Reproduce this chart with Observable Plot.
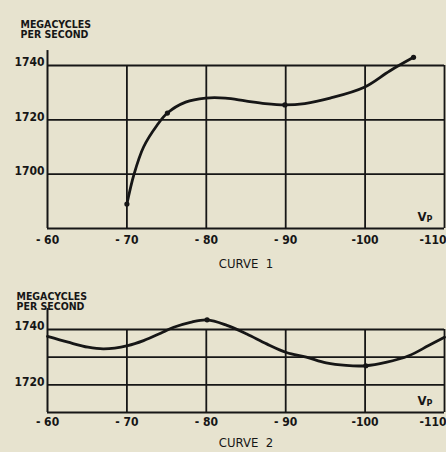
<!DOCTYPE html>
<html><head><meta charset="utf-8">
<script src="https://cdn.jsdelivr.net/npm/d3@7"></script>
<script src="https://cdn.jsdelivr.net/npm/@observablehq/plot@0.6"></script>
<style>
html,body{margin:0;padding:0;background:#e7e3cf;}
#chart{width:446px;height:452px;overflow:hidden;background:#e7e3cf;}
#chart svg{display:block;background:transparent;}
</style></head><body><div id="chart"></div>
<script>
// Shared x axis (plate voltage Vp)
const xTicks = [-60, -70, -80, -90, -100, -110];
const xTickLabels = ["- 60", "- 70", "- 80", "- 90", "-100", "-110"];

// Curve 1
const curve1X = [-70, -70.9, -72.1, -73.8, -75.1, -77.4, -79.9, -82.4, -84.9, -87.4, -89.9, -92.4, -95.6, -99.9, -103.1, -106.1];
const curve1Y = [1689, 1700, 1710, 1718, 1722.5, 1726.5, 1728, 1728, 1727, 1726, 1725.5, 1726, 1728, 1732, 1738, 1743];
const curve1DotX = [-70, -75.1, -89.9, -106.1];
const curve1DotY = [1689, 1722.5, 1725.5, 1743];
const y1Grid = [1680, 1700, 1720, 1740];
const y1Labels = [1700, 1720, 1740];

// Curve 2
const curve2X = [-60, -62.6, -65.1, -67.1, -70.1, -72.1, -74.5, -75.9, -78, -80.1, -82.6, -85.1, -87.6, -90.1, -92.6, -95.1, -97.6, -100.1, -102.6, -105.5, -108, -110];
const curve2Y = [1737.5, 1735.4, 1733.6, 1733, 1734.2, 1736, 1739, 1740.8, 1742.6, 1743.5, 1741.5, 1738.4, 1734.8, 1731.7, 1730, 1727.9, 1727, 1726.9, 1728.1, 1730.5, 1734.2, 1737.2];
const curve2DotX = [-80.1, -100.1];
const curve2DotY = [1743.5, 1726.9];
const y2Grid = [1710, 1720, 1730, 1740];
const y2Labels = [1720, 1740];

const yTitle = ["MEGACYCLES", "PER SECOND"];
const captions = ["CURVE  1", "CURVE  2"];

const INK = "#161616";
const FONT = "'DejaVu Sans Condensed', 'DejaVu Sans', sans-serif";

function panel({height, marginTop, marginBottom, yDomain, yAxisTop, grid, yLabels, xs, ys, dx, dy, caption, captionDy, tickDy, titleDx, titleDy}) {
  const pts = xs.map((x, i) => ({x, y: ys[i]}));
  const dots = dx.map((x, i) => ({x, y: dy[i]}));
  const n = xTicks.length;
  return Plot.plot({
    width: 446, height, marginTop, marginBottom, marginLeft: 47, marginRight: 2,
    style: {fontFamily: FONT, background: "transparent", color: INK},
    x: {domain: [-60, -110], axis: null},
    y: {domain: yDomain, axis: null},
    marks: [
      Plot.ruleY(grid, {x1: -60, x2: -110, y: d => d, stroke: INK, strokeWidth: 1.8}),
      Plot.ruleX(xTicks.slice(1), {x: d => d, y1: yDomain[0], y2: yDomain[1], stroke: INK, strokeWidth: 1.8}),
      Plot.ruleX([-60], {x: d => d, y1: yDomain[0], y2: yAxisTop, stroke: INK, strokeWidth: 2, clip: false}),
      Plot.line(pts, {x: "x", y: "y", curve: "catmull-rom", stroke: INK, strokeWidth: 2.8, strokeLinecap: "round"}),
      Plot.dot(dots, {x: "x", y: "y", r: 2.6, fill: INK}),
      Plot.text(xTicks.slice(0, n - 1), {x: d => d, text: (d, i) => xTickLabels[i], frameAnchor: "bottom", dy: tickDy, fontSize: 12, fontWeight: "bold", fill: INK}),
      Plot.text(xTicks.slice(n - 1), {x: d => d, text: () => xTickLabels[n - 1], frameAnchor: "bottom", textAnchor: "end", dx: 2, dy: tickDy, fontSize: 12, fontWeight: "bold", fill: INK}),
      Plot.text(yLabels, {y: d => d, text: d => String(d), frameAnchor: "left", textAnchor: "end", dx: -3, dy: -3, fontSize: 12, fontWeight: "bold", fill: INK}),
      Plot.text([yTitle[0]], {frameAnchor: "top-left", textAnchor: "start", dx: titleDx, dy: titleDy, fontSize: 10.5, fontWeight: "bold", fill: INK}),
      Plot.text([yTitle[1]], {frameAnchor: "top-left", textAnchor: "start", dx: titleDx, dy: titleDy + 10.5, fontSize: 10.5, fontWeight: "bold", fill: INK}),
      Plot.text([caption], {frameAnchor: "bottom", dy: captionDy, fontSize: 13, fill: INK}),
      Plot.text(["V"], {frameAnchor: "bottom-right", textAnchor: "start", dx: -27, dy: -8, fontSize: 13, fontWeight: "bold", fill: INK}),
      Plot.text(["P"], {frameAnchor: "bottom-right", textAnchor: "start", dx: -18, dy: -7, fontSize: 9, fontWeight: "bold", fill: INK})
    ]
  });
}

const topPanel = panel({
  height: 276, marginTop: 65, marginBottom: 48, yDomain: [1680, 1740], yAxisTop: 1745.5,
  grid: y1Grid, yLabels: y1Labels, xs: curve1X, ys: curve1Y, dx: curve1DotX, dy: curve1DotY,
  caption: captions[0], captionDy: 39, tickDy: 15, titleDx: -27, titleDy: -45
});
const bottomPanel = panel({
  height: 176, marginTop: 53, marginBottom: 40, yDomain: [1710, 1740], yAxisTop: 1747.6,
  grid: y2Grid, yLabels: y2Labels, xs: curve2X, ys: curve2Y, dx: curve2DotX, dy: curve2DotY,
  caption: captions[1], captionDy: 34, tickDy: 13, titleDx: -31, titleDy: -37
});
const root = document.getElementById("chart");
root.appendChild(topPanel);
root.appendChild(bottomPanel);
</script>
</body></html>
